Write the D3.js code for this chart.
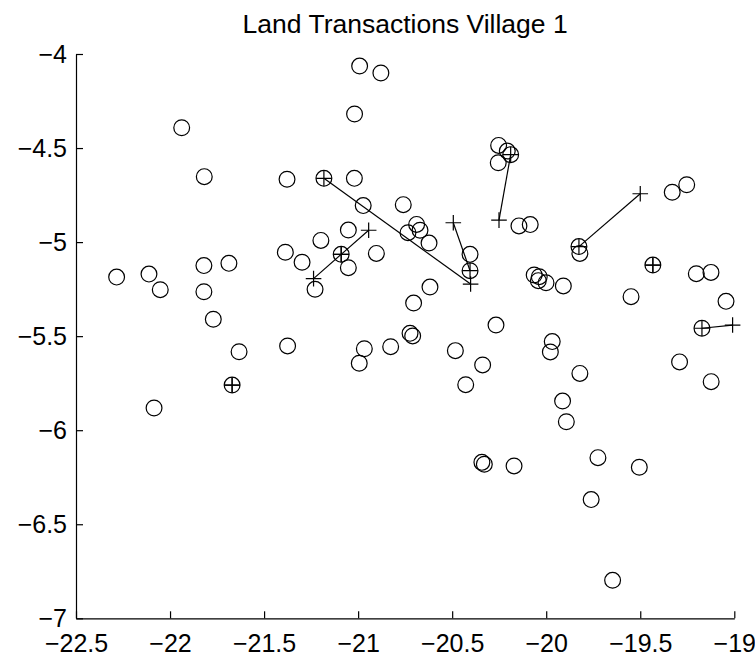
<!DOCTYPE html>
<html>
<head>
<meta charset="utf-8">
<script src="https://cdn.jsdelivr.net/npm/d3@7"></script>
<style>
  html, body { margin: 0; padding: 0; background: #fff; }
  svg { display: block; }
  text { font-family: "Liberation Sans", Arial, Helvetica, sans-serif; fill: #000; }
</style>
</head>
<body>
<svg id="chart" width="755" height="658"></svg>
<script>
// ---------------- data ----------------
const chartTitle = "Land Transactions Village 1";

const xTickValues = [-22.5, -22, -21.5, -21, -20.5, -20, -19.5, -19];
const xTickLabels = ["\u221222.5", "\u221222", "\u221221.5", "\u221221", "\u221220.5", "\u221220", "\u221219.5", "\u221219"];
const yTickValues = [-7, -6.5, -6, -5.5, -5, -4.5, -4];
const yTickLabels = ["\u22127", "\u22126.5", "\u22126", "\u22125.5", "\u22125", "\u22124.5", "\u22124"];

// plot locations (circles)
const plotX = [
  -21.938, -21.818, -22.284, -22.112, -22.052, -21.820, -21.820, -21.687, -21.770, -22.085,
  -21.670, -21.633, -21.375, -20.967, -20.994, -20.827, -20.992, -20.879, -21.019, -21.378,
  -21.182, -21.020, -20.973, -20.760, -21.052, -21.198, -21.387, -21.298, -21.090, -21.052,
  -20.903, -21.229, -20.689, -20.735, -20.671, -20.623, -20.405, -20.405, -20.618, -20.705,
  -20.724, -20.710, -20.253, -20.255, -20.207, -20.189, -20.145, -20.085, -20.064, -20.037,
  -20.042, -20.001, -19.909, -20.267, -20.483, -20.338, -20.428, -19.968, -19.978, -20.342,
  -20.329, -20.171, -19.821, -19.913, -19.893, -19.725, -19.505, -19.761, -19.647, -19.291,
  -19.123, -19.172, -19.330, -19.253, -19.826, -19.821, -19.433, -19.202, -19.124, -19.549,
  -19.044
];
const plotY = [
  -4.392, -4.652, -5.186, -5.170, -5.253, -5.125, -5.264, -5.113, -5.410, -5.882,
  -5.760, -5.583, -5.552, -5.567, -5.644, -5.556, -4.064, -4.101, -4.319, -4.666,
  -4.661, -4.661, -4.806, -4.801, -4.936, -4.991, -5.054, -5.107, -5.065, -5.136,
  -5.060, -5.251, -4.906, -4.950, -4.937, -5.005, -5.065, -5.152, -5.239, -5.324,
  -5.485, -5.499, -4.486, -4.578, -4.516, -4.535, -4.914, -4.907, -5.175, -5.184,
  -5.205, -5.216, -5.233, -5.441, -5.577, -5.653, -5.758, -5.529, -5.584, -6.171,
  -6.181, -6.190, -5.698, -5.845, -5.955, -6.146, -6.197, -6.369, -6.798, -5.637,
  -5.742, -5.458, -4.735, -4.695, -5.024, -5.060, -5.122, -5.168, -5.161, -5.290,
  -5.315
];

// transactions (from -> to), each end marked with '+'
const transFromX = [-21.182, -21.090, -21.090, -20.405, -20.189, -19.826, -19.172, -21.670, -19.433];
const transFromY = [ -4.661,  -5.065,  -5.065,  -5.152,  -4.535,  -5.024,  -5.458,  -5.760,  -5.122];
const transToX   = [-20.402, -21.237, -20.944, -20.494, -20.251, -19.500, -19.009, -21.670, -19.433];
const transToY   = [ -5.223,  -5.194,  -4.937,  -4.897,  -4.883,  -4.743,  -5.441,  -5.760,  -5.122];

// ---------------- chart ----------------
(function () {
const W = 755, H = 658;
const mLeft = 76, mRight = 734.3, mTop = 54, mBottom = 618.3;

const svg = d3.select("#chart");
svg.append("rect").attr("width", W).attr("height", H).attr("fill", "#fff");

const x = d3.scaleLinear().domain([-22.5, -19]).range([mLeft, mRight]);
const y = d3.scaleLinear().domain([-7, -4]).range([mBottom, mTop]);

// title
svg.append("text")
  .attr("x", (mLeft + mRight) / 2)
  .attr("y", 33)
  .attr("text-anchor", "middle")
  .style("font-size", "26.5px")
  .text(chartTitle);

// axes
const xAxis = d3.axisBottom(x)
  .tickValues(xTickValues)
  .tickFormat((d, i) => xTickLabels[i])
  .tickSizeInner(-7)
  .tickSizeOuter(0)
  .tickPadding(16);
const yAxis = d3.axisLeft(y)
  .tickValues(yTickValues)
  .tickFormat((d, i) => yTickLabels[i])
  .tickSizeInner(-7)
  .tickSizeOuter(0)
  .tickPadding(9);

const gx = svg.append("g").attr("transform", `translate(0,${mBottom})`).call(xAxis);
const gy = svg.append("g").attr("transform", `translate(${mLeft},0)`).call(yAxis);
[gx, gy].forEach(g => {
  g.attr("font-family", null).attr("font-size", null);
  g.selectAll("path.domain").attr("stroke", "#000").attr("stroke-width", 1.2);
  g.selectAll(".tick line").attr("stroke", "#000").attr("stroke-width", 1.2);
  g.selectAll(".tick text").style("font-size", "25px").attr("fill", "#000");
});

// transaction lines
const trans = transFromX.map((d, i) => ({x1: d, y1: transFromY[i], x2: transToX[i], y2: transToY[i]}));
svg.append("g").selectAll("line")
  .data(trans).join("line")
  .attr("x1", d => x(d.x1)).attr("y1", d => y(d.y1))
  .attr("x2", d => x(d.x2)).attr("y2", d => y(d.y2))
  .attr("stroke", "#000").attr("stroke-width", 1.2);

// circles
const pts = plotX.map((d, i) => ({x: d, y: plotY[i]}));
svg.append("g").selectAll("circle")
  .data(pts).join("circle")
  .attr("cx", d => x(d.x)).attr("cy", d => y(d.y))
  .attr("r", 7.9)
  .attr("fill", "none").attr("stroke", "#000").attr("stroke-width", 1.2);

// plus markers at both ends of each transaction
const plusPts = [];
trans.forEach(t => { plusPts.push({x: t.x1, y: t.y1}); plusPts.push({x: t.x2, y: t.y2}); });
const arm = 7.8;
svg.append("g").selectAll("path")
  .data(plusPts).join("path")
  .attr("d", d => {
    const cx = x(d.x), cy = y(d.y);
    return `M${cx - arm},${cy}H${cx + arm}M${cx},${cy - arm}V${cy + arm}`;
  })
  .attr("fill", "none").attr("stroke", "#000").attr("stroke-width", 1.2);
})();
</script>
</body>
</html>
